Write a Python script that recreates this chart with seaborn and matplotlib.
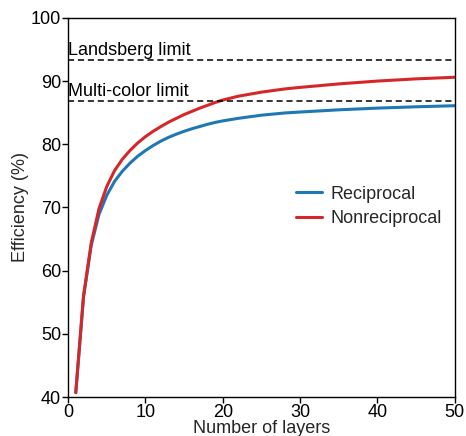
import pandas as pd
import matplotlib
matplotlib.use("Agg")
import matplotlib.pyplot as plt
import seaborn as sns

# values
layers = [1, 2, 3, 4, 5, 6, 7, 8, 9, 10, 11, 12, 13, 14, 15, 16, 17, 18, 19, 20,
          22, 25, 28, 30, 35, 40, 45, 50]
reciprocal = [40.7, 55.8, 64.0, 68.9, 71.9, 74.1, 75.7, 77.0, 78.1, 79.0, 79.8, 80.5,
              81.1, 81.6, 82.05, 82.45, 82.8, 83.15, 83.45, 83.7,
              84.1, 84.6, 84.95, 85.1, 85.45, 85.72, 85.93, 86.1]
nonreciprocal = [40.7, 56.0, 64.4, 69.8, 73.3, 75.8, 77.6, 79.0, 80.2, 81.2, 82.05, 82.8,
                 83.5, 84.1, 84.7, 85.2, 85.7, 86.15, 86.6, 87.0,
                 87.6, 88.25, 88.75, 89.0, 89.55, 90.0, 90.35, 90.6]
series_names = ["Reciprocal", "Nonreciprocal"]
series_colors = ["#1f77b4", "#d62728"]

limit_names = ["Landsberg limit", "Multi-color limit"]
limit_values = [93.3, 86.8]

x_ticks = [0, 10, 20, 30, 40, 50]
y_ticks = [40, 50, 60, 70, 80, 90, 100]

df = pd.DataFrame({
    "layers": layers * 2,
    "efficiency": reciprocal + nonreciprocal,
    "kind": [series_names[0]] * len(layers) + [series_names[1]] * len(layers),
})

sns.set_style("ticks")
plt.rcParams["font.family"] = ["Liberation Sans", "DejaVu Sans"]
FS = 13

fig = plt.figure(figsize=(4.66, 4.36), dpi=100)
ax = fig.add_axes([0.146, 0.0894, 0.830, 0.8696])

sns.lineplot(data=df, x="layers", y="efficiency", hue="kind", hue_order=series_names,
             palette=series_colors, linewidth=2.2, ax=ax, legend=False)

for name, val in zip(limit_names, limit_values):
    ax.axhline(val, color="black", linestyle=(0, (4, 2.5)), linewidth=1.1)
    ax.text(0.05, val + 0.2, name, fontsize=FS, va="bottom", ha="left", color="black")

ax.set_xlim(0, 50)
ax.set_ylim(40, 100)
ax.set_xticks(x_ticks)
ax.set_yticks(y_ticks)
ax.set_xlabel("Number of layers", fontsize=FS, labelpad=-1)
ax.set_ylabel("Efficiency (%)", fontsize=FS, labelpad=1)
ax.tick_params(axis="both", labelsize=FS, direction="out", length=4, width=1,
               color="black", labelcolor="black", pad=1)
for side in ["top", "right", "left", "bottom"]:
    ax.spines[side].set_visible(True)
    ax.spines[side].set_color("black")
    ax.spines[side].set_linewidth(1.0)

handles = [plt.Line2D([], [], color=c, linewidth=2.2) for c in series_colors]
ax.legend(handles, series_names, loc="center left", bbox_to_anchor=(0.548, 0.503),
          frameon=False, fontsize=FS, handlelength=1.4, handletextpad=0.5,
          labelspacing=0.42)

fig.savefig("out.png", dpi=100)
plt.close(fig)
